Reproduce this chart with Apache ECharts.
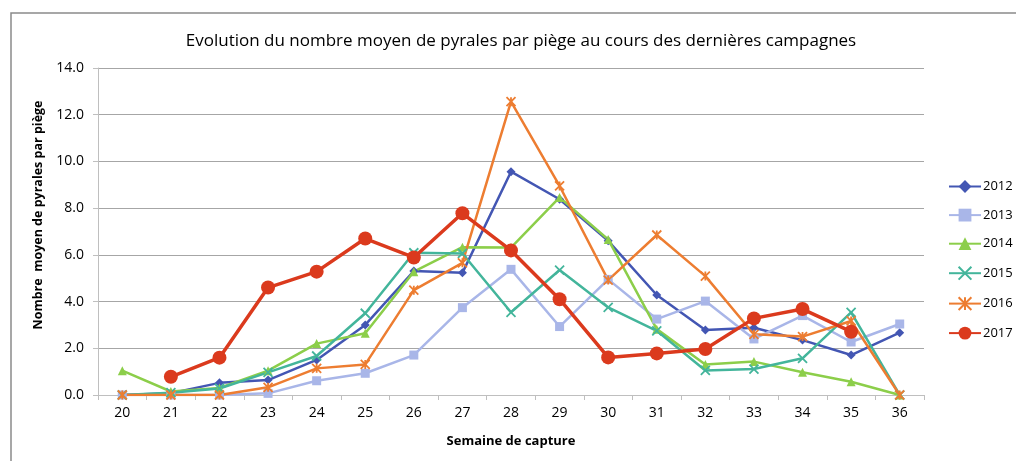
<!DOCTYPE html>
<html><head><meta charset="utf-8">
<script src="https://cdn.jsdelivr.net/npm/echarts@6/dist/echarts.min.js"></script>
<style>html,body{margin:0;padding:0;background:#fff}#c{width:1016px;height:461px}</style>
</head><body><div id="c"></div>
<script>
const weeks = ['20','21','22','23','24','25','26','27','28','29','30','31','32','33','34','35','36'];
const s2012 = [0, 0.08, 0.52, 0.64, 1.5, 3.0, 5.31, 5.23, 9.56, 8.38, 6.6, 4.28, 2.78, 2.88, 2.35, 1.71, 2.67];
const s2013 = [0, 0, 0, 0.07, 0.61, 0.93, 1.71, 3.74, 5.38, 2.93, 4.95, 3.25, 4.02, 2.4, 3.4, 2.27, 3.04];
const s2014 = [1.04, 0.15, 0.3, 1.04, 2.2, 2.64, 5.28, 6.33, 6.31, 8.46, 6.66, 2.82, 1.31, 1.43, 0.97, 0.57, 0];
const s2015 = [0, 0.1, 0.28, 0.97, 1.67, 3.5, 6.09, 6.06, 3.54, 5.35, 3.75, 2.75, 1.05, 1.11, 1.57, 3.54, 0];
const s2016 = [0, 0, 0, 0.33, 1.14, 1.31, 4.49, 5.66, 12.56, 8.95, 4.92, 6.85, 5.09, 2.6, 2.5, 3.17, 0];
const s2017 = [null, 0.78, 1.6, 4.6, 5.28, 6.7, 5.89, 7.78, 6.19, 4.1, 1.61, 1.78, 1.97, 3.28, 3.68, 2.71, null];
const yTicks = ['0.0','2.0','4.0','6.0','8.0','10.0','12.0','14.0'];

const defs = [
  {name:'2012', data:s2012, color:'#4356b3', symbol:'diamond', size:9, width:2.5},
  {name:'2013', data:s2013, color:'#a9b6e8', symbol:'rect', size:9, width:2.5},
  {name:'2014', data:s2014, color:'#8cce4a', symbol:'triangle', size:9, width:2.5},
  {name:'2015', data:s2015, color:'#43b59b', symbol:'path://M0,0L10,10M10,0L0,10', size:9, width:2.5},
  {name:'2016', data:s2016, color:'#ed7d31', symbol:'path://M0,0L10,10M10,0L0,10M5,0L5,10', size:9, width:2.5},
  {name:'2017', data:s2017, color:'#db3a1d', symbol:'circle', size:14, width:3.5}
];

const chart = echarts.init(document.getElementById('c'));
chart.setOption({
  animation:false,
  backgroundColor:'#fff',
  title:{text:'Evolution du nombre moyen de pyrales par piège au cours des dernières campagnes',
    left:516, top:28, textAlign:'center',
    textStyle:{fontFamily:'Open Sans', fontSize:17, fontWeight:'normal', color:'#000'}},
  graphic:[
    {type:'rect', shape:{x:11,y:13,width:1100,height:500}, style:{fill:'none', stroke:'#8a8a8a', lineWidth:1.5}, silent:true},
    {type:'text', x:38, y:215, rotation:Math.PI/2, silent:true,
      style:{text:'Nombre  moyen de pyrales par piège', fontFamily:'Open Sans', fontSize:12.5, fontWeight:'bold', fill:'#000', align:'center', verticalAlign:'middle'}}
  ],
  grid:{left:98, right:92, top:68, bottom:66},
  legend:{orient:'vertical', left:948, top:180, itemGap:15.6, itemWidth:32, itemHeight:16, padding:0,
    data:defs.map(d=>d.name),
    textStyle:{fontFamily:'Open Sans', fontSize:13, color:'#000', padding:[0,0,0,-3]}},
  xAxis:{type:'category', data:weeks, boundaryGap:true,
    name:'Semaine de capture', nameLocation:'middle', nameGap:40,
    nameTextStyle:{fontFamily:'Open Sans', fontSize:13, fontWeight:'bold', color:'#000'},
    axisLine:{lineStyle:{color:'#bfbfbf', width:1}},
    axisTick:{show:true, length:5, lineStyle:{color:'#bfbfbf'}},
    axisLabel:{fontFamily:'Open Sans', fontSize:14, color:'#000', margin:11}},
  yAxis:{type:'value', min:0, max:14, interval:2,
    axisLine:{show:true, lineStyle:{color:'#bfbfbf'}},
    axisTick:{show:true, length:5, lineStyle:{color:'#bfbfbf'}},
    splitLine:{lineStyle:{color:'#a6a6a6', width:1}},
    axisLabel:{fontFamily:'Open Sans', fontSize:14, color:'#000', margin:14,
      formatter:(v)=>yTicks[Math.round(v/2)]}},
  series:defs.map(d=>({
    name:d.name, type:'line', data:d.data, connectNulls:false,
    symbol:d.symbol, symbolSize:d.size, showAllSymbol:true,
    lineStyle:{color:d.color, width:d.width},
    itemStyle:{color:d.color, borderColor:d.color, borderWidth:(d.name==='2015'||d.name==='2016')?1.8:0}
  }))
});
</script></body></html>
